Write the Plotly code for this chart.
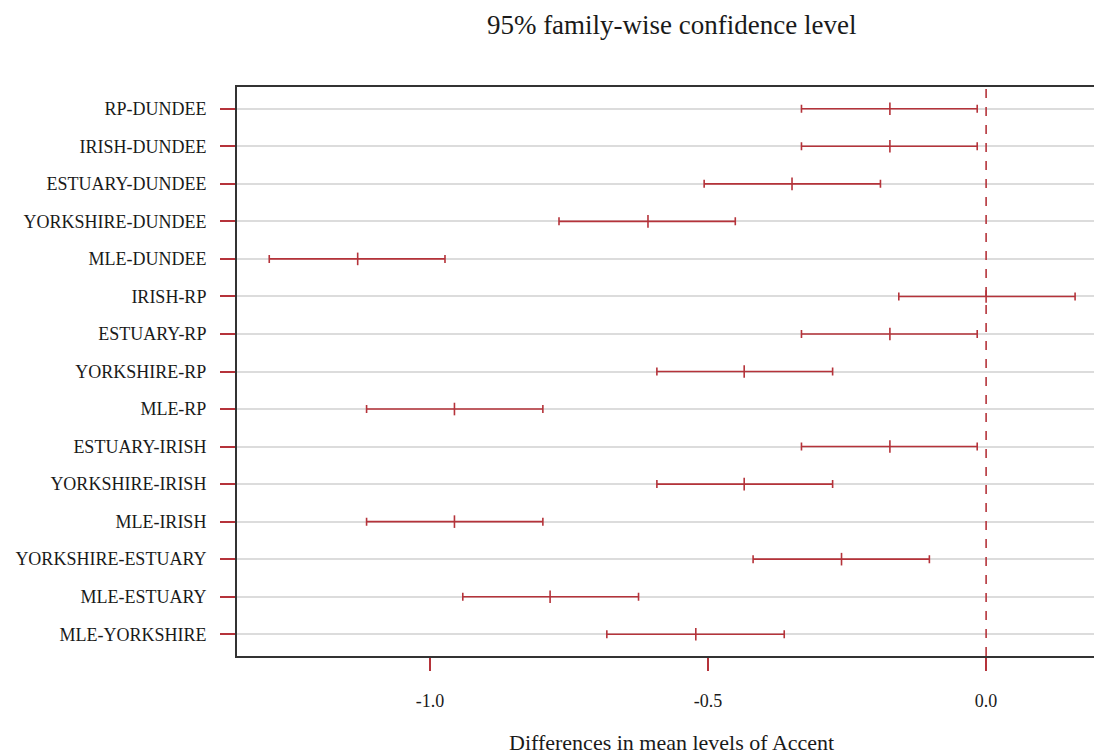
import plotly.graph_objects as go

# Tukey HSD comparisons of Accent groups
comparisons = [
    "RP-DUNDEE", "IRISH-DUNDEE", "ESTUARY-DUNDEE", "YORKSHIRE-DUNDEE", "MLE-DUNDEE",
    "IRISH-RP", "ESTUARY-RP", "YORKSHIRE-RP", "MLE-RP", "ESTUARY-IRISH",
    "YORKSHIRE-IRISH", "MLE-IRISH", "YORKSHIRE-ESTUARY", "MLE-ESTUARY", "MLE-YORKSHIRE",
]
diff = [-0.173, -0.173, -0.349, -0.608, -1.130,
        0.000, -0.173, -0.435, -0.956, -0.173,
        -0.435, -0.956, -0.260, -0.784, -0.522]
lwr = [-0.332, -0.332, -0.507, -0.768, -1.289,
       -0.157, -0.332, -0.592, -1.114, -0.332,
       -0.592, -1.114, -0.419, -0.941, -0.682]
upr = [-0.016, -0.016, -0.190, -0.451, -0.973,
       0.160, -0.016, -0.276, -0.797, -0.016,
       -0.276, -0.797, -0.102, -0.625, -0.363]
x_ticks = [-1.0, -0.5, 0.0]
x_tick_labels = ["-1.0", "-0.5", "0.0"]

RED = "#b5333a"
FONT = "Liberation Serif, Times New Roman, serif"

fig = go.Figure()
fig.add_trace(go.Scatter(
    x=diff,
    y=comparisons,
    mode="markers",
    marker=dict(symbol="line-ns", size=9, line=dict(color=RED, width=1.6)),
    error_x=dict(
        type="data",
        symmetric=False,
        array=[u - d for u, d in zip(upr, diff)],
        arrayminus=[d - l for d, l in zip(diff, lwr)],
        color=RED,
        thickness=1.6,
        width=4,
    ),
    showlegend=False,
    hoverinfo="skip",
))

# reference line at zero difference
fig.add_shape(type="line", xref="x", yref="paper", x0=0, x1=0, y0=0, y1=1,
              line=dict(color=RED, width=1.6, dash="dash"))

fig.update_layout(
    width=1094,
    height=756,
    margin=dict(l=237, r=0, t=87, b=100),
    paper_bgcolor="white",
    plot_bgcolor="white",
    font=dict(family=FONT, size=18, color="#1a1a1a"),
    title=dict(
        text="95% family-wise confidence level",
        font=dict(family=FONT, size=27, color="#1a1a1a"),
        xref="container", yref="container",
        x=671.7 / 1094, y=1 - 25 / 756,
        xanchor="center", yanchor="middle",
    ),
    xaxis=dict(
        range=[-1.347, 0.194],
        tickvals=x_ticks,
        ticktext=x_tick_labels,
        ticks="outside",
        ticklen=13,
        tickwidth=1.6,
        tickcolor=RED,
        ticklabelstandoff=14,
        showgrid=False,
        zeroline=False,
        showline=True,
        linecolor="#333333",
        linewidth=2,
        mirror=True,
        tickfont=dict(family=FONT, size=18, color="#1a1a1a"),
    ),
    yaxis=dict(
        type="category",
        categoryorder="array",
        categoryarray=comparisons,
        range=[14.58, -0.58],
        ticks="outside",
        ticklen=15,
        tickwidth=1.6,
        tickcolor=RED,
        ticklabelstandoff=10,
        showgrid=True,
        gridcolor="#dcdcdc",
        gridwidth=1.6,
        zeroline=False,
        showline=True,
        linecolor="#333333",
        linewidth=2,
        tickfont=dict(family=FONT, size=18, color="#1a1a1a"),
    ),
    annotations=[dict(
        text="Differences in mean levels of Accent",
        xref="paper", yref="paper",
        x=(671.7 - 237) / 857, y=-(742 - 656) / 569,
        xanchor="center", yanchor="middle",
        showarrow=False,
        font=dict(family=FONT, size=22, color="#1a1a1a"),
    )],
)

fig.write_html("out.html")
